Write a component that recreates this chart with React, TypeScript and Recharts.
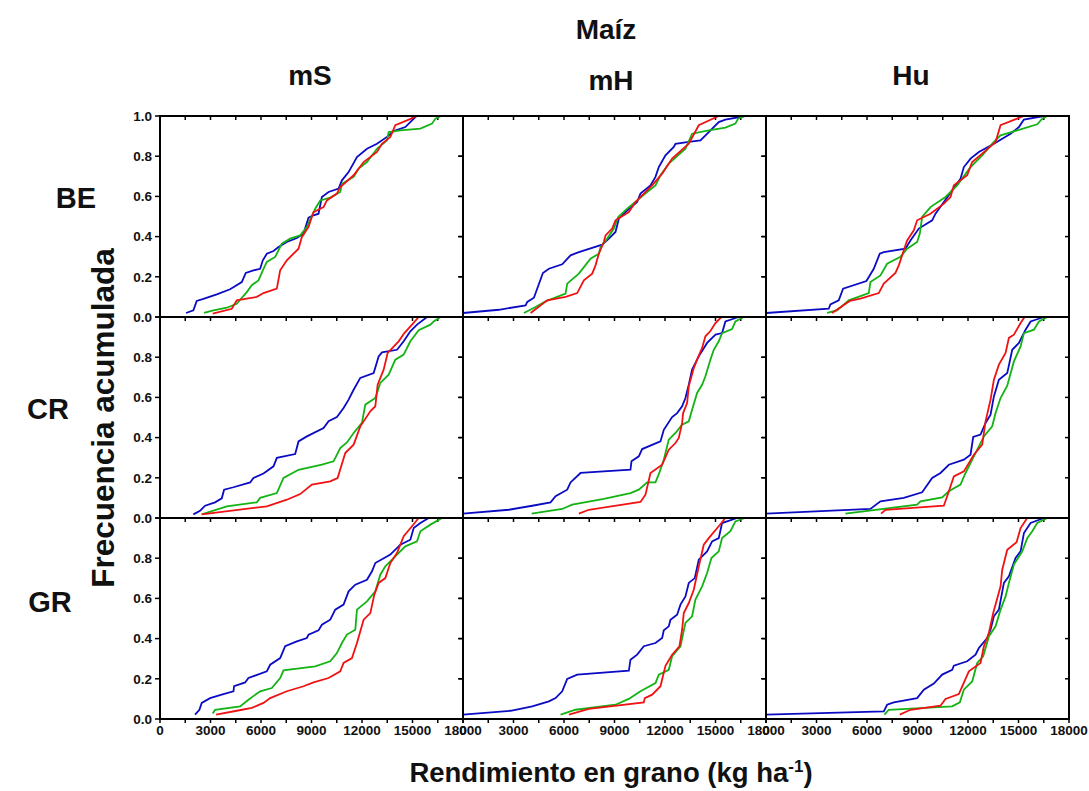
import { LineChart, Line, XAxis, YAxis, ReferenceLine } from "recharts";

type Pt = [number, number];

// column / row names
const columns = ["mS", "mH", "Hu"];
const rows = ["BE", "CR", "GR"];
const xTicks = [0, 1500, 3000, 4500, 6000, 7500, 9000, 10500, 12000, 13500, 15000, 16500, 18000];
const yTicks = [0, 0.2, 0.4, 0.6, 0.8, 1.0];

// BE
const beMsBlue: Pt[] = [[1547,0.02],[1983,0.033],[2181,0.08],[2578,0.09],[3371,0.113],[4165,0.138],[4858,0.174],[5096,0.219],[5552,0.232],[5949,0.24],[6108,0.282],[6346,0.315],[6742,0.328],[7040,0.348],[7535,0.373],[8130,0.393],[8527,0.415],[8824,0.494],[9121,0.506],[9418,0.514],[9616,0.597],[10014,0.622],[10609,0.639],[10807,0.68],[11204,0.721],[11700,0.796],[12295,0.837],[12890,0.862],[13485,0.896],[13881,0.925],[14575,0.945],[14972,0.978],[15230,1.0]];
const beMsGreen: Pt[] = [[2618,0.02],[3173,0.033],[3966,0.046],[4561,0.066],[4759,0.086],[5155,0.124],[5453,0.158],[5850,0.182],[6108,0.232],[6346,0.274],[6841,0.299],[7238,0.365],[7734,0.39],[8329,0.406],[8725,0.448],[9220,0.539],[9517,0.58],[10113,0.594],[10708,0.622],[10807,0.663],[11502,0.697],[11799,0.738],[12295,0.771],[12890,0.837],[13485,0.879],[13584,0.92],[14278,0.929],[15468,0.937],[16162,0.962],[16360,0.987],[16697,1.0]];
const beMsRed: Pt[] = [[3133,0.017],[4264,0.041],[4561,0.083],[5155,0.091],[5751,0.1],[6148,0.119],[6941,0.141],[7139,0.232],[7535,0.282],[8229,0.34],[8428,0.398],[8824,0.448],[9121,0.522],[9715,0.547],[9913,0.58],[10509,0.614],[10708,0.647],[11502,0.705],[12097,0.771],[12890,0.821],[13187,0.862],[13683,0.896],[13980,0.954],[14674,0.978],[15270,1.0]];
const beMhBlue: Pt[] = [[0,0.02],[2136,0.036],[3719,0.058],[3818,0.075],[4213,0.096],[4747,0.219],[5103,0.24],[5894,0.262],[6389,0.307],[6883,0.323],[8268,0.36],[8664,0.39],[9059,0.423],[9257,0.489],[9653,0.522],[10346,0.572],[10543,0.614],[11137,0.655],[11434,0.697],[11632,0.746],[12028,0.804],[12522,0.846],[12621,0.862],[13413,0.871],[14105,0.879],[14600,0.92],[15193,0.97],[15589,0.982],[16776,1.0]];
const beMhGreen: Pt[] = [[3620,0.02],[4312,0.05],[4905,0.078],[6092,0.116],[6191,0.166],[6883,0.216],[7576,0.29],[8070,0.315],[8169,0.348],[8565,0.39],[8961,0.44],[9218,0.498],[9752,0.539],[10346,0.58],[10939,0.622],[11434,0.655],[11731,0.705],[12225,0.763],[13214,0.837],[13610,0.912],[14600,0.929],[15589,0.942],[16183,0.962],[16341,0.987],[16697,1.0]];
const beMhRed: Pt[] = [[4015,0.02],[5004,0.083],[6092,0.1],[6785,0.119],[7180,0.182],[7675,0.216],[7873,0.257],[8070,0.315],[8367,0.373],[8466,0.406],[8862,0.44],[9059,0.481],[9851,0.522],[10247,0.572],[10642,0.605],[11236,0.655],[11830,0.713],[12423,0.788],[13413,0.862],[14006,0.954],[15193,1.0]];
const beHuBlue: Pt[] = [[0,0.02],[3726,0.041],[3825,0.063],[4321,0.083],[4579,0.141],[5966,0.179],[6402,0.24],[6759,0.315],[6997,0.323],[8285,0.34],[8582,0.381],[9078,0.44],[9871,0.481],[10069,0.514],[10565,0.572],[11060,0.63],[11556,0.688],[11754,0.746],[12150,0.788],[12646,0.821],[13538,0.862],[14529,0.912],[15025,0.945],[15322,0.982],[16511,1.0]];
const beHuGreen: Pt[] = [[3627,0.02],[4222,0.033],[4916,0.083],[6105,0.119],[6204,0.174],[6799,0.207],[7195,0.265],[7988,0.299],[8384,0.34],[8979,0.373],[9137,0.415],[9276,0.498],[9771,0.547],[10663,0.597],[11357,0.655],[12150,0.746],[12844,0.804],[13538,0.871],[13934,0.904],[14925,0.929],[16114,0.959],[16412,0.987],[16709,1.0]];
const beHuRed: Pt[] = [[3924,0.02],[4975,0.08],[5609,0.091],[6699,0.119],[6997,0.166],[7691,0.219],[7889,0.257],[8186,0.332],[8384,0.381],[8781,0.431],[8979,0.481],[9771,0.514],[10564,0.564],[10961,0.597],[11159,0.655],[11952,0.705],[12249,0.771],[12844,0.813],[13637,0.871],[13934,0.954],[15322,1.0]];

// CR
const crMsBlue: Pt[] = [[1983,0.018],[2380,0.036],[2677,0.061],[3272,0.078],[3669,0.098],[3808,0.141],[4363,0.153],[5354,0.177],[5552,0.199],[6148,0.221],[6742,0.257],[6941,0.299],[8031,0.318],[8229,0.381],[8725,0.406],[9716,0.448],[10014,0.481],[10509,0.502],[10906,0.547],[11204,0.589],[11502,0.638],[11899,0.697],[12692,0.721],[12989,0.804],[13187,0.824],[14080,0.837],[14476,0.879],[14872,0.929],[15270,0.962],[15865,1.0]];
const crMsGreen: Pt[] = [[2479,0.018],[3966,0.058],[5751,0.078],[5949,0.1],[6941,0.124],[7337,0.199],[8229,0.24],[9617,0.265],[10311,0.282],[10708,0.348],[11105,0.376],[11502,0.423],[11997,0.473],[12196,0.564],[12791,0.597],[13088,0.672],[13584,0.713],[13980,0.788],[14476,0.813],[14872,0.879],[15368,0.934],[16063,0.962],[16261,0.978],[16658,1.0]];
const crMsRed: Pt[] = [[2479,0.018],[6346,0.058],[7535,0.091],[8329,0.119],[9022,0.166],[10113,0.182],[10549,0.199],[11006,0.323],[11502,0.365],[11899,0.456],[12494,0.531],[12791,0.556],[12930,0.663],[13286,0.738],[13524,0.821],[14179,0.879],[14516,0.92],[14972,0.962],[15368,1.0]];
const crMhBlue: Pt[] = [[0,0.022],[2730,0.041],[4114,0.061],[5202,0.078],[5499,0.108],[6191,0.141],[6389,0.177],[6982,0.224],[9949,0.24],[10009,0.282],[10444,0.307],[10642,0.343],[11731,0.381],[11929,0.439],[12423,0.502],[12720,0.522],[13017,0.556],[13214,0.597],[13413,0.663],[13610,0.738],[14006,0.804],[14501,0.871],[15000,0.912],[15391,0.92],[15589,0.978],[16380,1.0]];
const crMhGreen: Pt[] = [[4075,0.022],[5894,0.045],[6488,0.066],[8367,0.095],[9949,0.124],[10444,0.141],[10939,0.177],[11434,0.177],[11672,0.227],[11929,0.29],[12225,0.39],[12621,0.423],[13017,0.464],[13413,0.481],[13610,0.539],[13907,0.622],[14204,0.663],[14402,0.705],[14699,0.788],[14897,0.837],[15193,0.879],[15391,0.92],[15984,0.94],[16183,0.978],[16677,1.0]];
const crMhRed: Pt[] = [[6883,0.022],[7477,0.041],[10543,0.08],[10840,0.116],[11137,0.224],[11830,0.265],[12225,0.34],[12621,0.373],[12819,0.398],[13017,0.473],[13076,0.522],[13313,0.572],[13413,0.655],[13709,0.746],[13907,0.788],[14204,0.846],[14402,0.904],[14699,0.93],[14996,0.97],[15352,1.0]];
const crHuBlue: Pt[] = [[0,0.022],[6204,0.045],[6799,0.083],[8186,0.1],[9276,0.128],[9871,0.199],[10366,0.224],[10862,0.265],[11754,0.29],[12150,0.315],[12309,0.403],[12745,0.415],[13043,0.473],[13340,0.514],[13538,0.605],[13835,0.688],[14331,0.721],[14628,0.837],[15025,0.871],[15421,0.937],[15718,0.978],[16511,1.0]];
const crHuGreen: Pt[] = [[4717,0.022],[8979,0.066],[9177,0.083],[10466,0.103],[10862,0.133],[11556,0.166],[11853,0.224],[12348,0.307],[12943,0.406],[13439,0.456],[13637,0.522],[13934,0.597],[14331,0.658],[14727,0.779],[15124,0.854],[15322,0.92],[15916,0.937],[16214,0.978],[16709,1.0]];
const crHuRed: Pt[] = [[6838,0.022],[7096,0.041],[10564,0.061],[10763,0.108],[11159,0.207],[11754,0.232],[12348,0.315],[12844,0.365],[13043,0.481],[13340,0.589],[13538,0.688],[13835,0.763],[14232,0.821],[14430,0.896],[14727,0.912],[15124,0.97],[15362,1.0]];

// GR
const grMsBlue: Pt[] = [[2082,0.022],[2340,0.046],[2479,0.08],[2975,0.104],[3768,0.124],[4363,0.138],[4403,0.163],[5057,0.182],[5254,0.204],[6346,0.237],[6545,0.27],[7139,0.303],[7436,0.362],[8130,0.386],[8725,0.403],[8824,0.42],[9418,0.441],[9617,0.469],[10113,0.494],[10410,0.544],[10906,0.569],[11204,0.635],[11601,0.668],[12295,0.693],[12593,0.735],[12791,0.776],[13683,0.818],[14278,0.867],[14872,0.892],[15071,0.95],[15468,0.975],[15964,1.0]];
const grMsGreen: Pt[] = [[3133,0.027],[3272,0.046],[4759,0.063],[5254,0.096],[5949,0.138],[6643,0.154],[7139,0.204],[7337,0.242],[9220,0.262],[10113,0.287],[10509,0.328],[10807,0.378],[11105,0.42],[11601,0.444],[11700,0.544],[12295,0.585],[12791,0.635],[13088,0.718],[13386,0.76],[14080,0.818],[14575,0.859],[15269,0.884],[15468,0.934],[16063,0.967],[16757,1.0]];
const grMsRed: Pt[] = [[3332,0.022],[4561,0.041],[5453,0.055],[6148,0.08],[6545,0.104],[7535,0.138],[8527,0.163],[9121,0.182],[10014,0.204],[10708,0.237],[10906,0.279],[11403,0.303],[11700,0.378],[12097,0.494],[12494,0.527],[12732,0.619],[12989,0.677],[13386,0.701],[13683,0.776],[14080,0.826],[14476,0.909],[14972,0.959],[15368,1.0]];
const grMhBlue: Pt[] = [[0,0.022],[2829,0.041],[4114,0.063],[5103,0.088],[5499,0.104],[5894,0.138],[6191,0.199],[6785,0.221],[9851,0.24],[9949,0.295],[10346,0.32],[10741,0.362],[11434,0.378],[11830,0.403],[11929,0.441],[12225,0.461],[12324,0.494],[12720,0.519],[12918,0.569],[13214,0.61],[13413,0.677],[13768,0.701],[14006,0.793],[14501,0.834],[14798,0.884],[15193,0.9],[15391,0.975],[16281,1.0]];
const grMhGreen: Pt[] = [[5795,0.022],[6686,0.046],[9059,0.071],[9851,0.1],[10543,0.138],[11434,0.179],[11632,0.221],[12225,0.245],[12423,0.312],[12918,0.362],[13214,0.478],[13610,0.511],[13807,0.594],[14204,0.66],[14501,0.726],[14758,0.801],[15193,0.834],[15391,0.9],[15886,0.934],[16183,0.983],[16737,1.0]];
const grMhRed: Pt[] = [[6290,0.022],[7477,0.05],[10741,0.083],[10800,0.104],[11236,0.121],[11731,0.163],[12028,0.265],[12423,0.32],[12858,0.362],[13017,0.444],[13115,0.527],[13413,0.577],[13709,0.643],[14006,0.759],[14303,0.867],[14600,0.9],[15193,0.959],[15589,1.0]];
const grHuBlue: Pt[] = [[0,0.022],[6997,0.038],[7195,0.071],[7592,0.083],[8979,0.104],[9375,0.146],[9970,0.176],[10466,0.221],[11060,0.245],[11159,0.265],[11952,0.287],[12448,0.32],[12646,0.353],[13141,0.403],[13340,0.444],[13538,0.511],[13835,0.544],[14133,0.677],[14430,0.71],[14826,0.801],[15124,0.834],[15322,0.925],[15718,0.975],[16511,1.0]];
const grHuGreen: Pt[] = [[7036,0.022],[7294,0.046],[11060,0.063],[11516,0.083],[11754,0.146],[12249,0.187],[12546,0.279],[12903,0.312],[13240,0.411],[13637,0.461],[13934,0.544],[14232,0.61],[14430,0.677],[14727,0.768],[15223,0.834],[15520,0.9],[15817,0.934],[16114,0.975],[16709,1.0]];
const grHuRed: Pt[] = [[7948,0.022],[8582,0.046],[10366,0.066],[10664,0.1],[11456,0.124],[12051,0.237],[12745,0.279],[12943,0.362],[13240,0.428],[13498,0.527],[13934,0.66],[14034,0.743],[14331,0.842],[14886,0.879],[15124,0.95],[15520,1.0]];

const panels: Pt[][][] = [
  [[beMsBlue, beMsGreen, beMsRed], [beMhBlue, beMhGreen, beMhRed], [beHuBlue, beHuGreen, beHuRed]],
  [[crMsBlue, crMsGreen, crMsRed], [crMhBlue, crMhGreen, crMhRed], [crHuBlue, crHuGreen, crHuRed]],
  [[grMsBlue, grMsGreen, grMsRed], [grMhBlue, grMhGreen, grMhRed], [grHuBlue, grHuGreen, grHuRed]],
];
const colors = ["#0b0bc4", "#13b313", "#f01212"];

const FONT = "'Liberation Sans', Arial, sans-serif";
const PW = 303;
const PH = 201;
const LEFT = 160;
const TOP = 116;
const XMAX = 18000;
// tick lengths in data units (about 4-5 px)
const TX = (5 / PW) * XMAX;
const TY = 4 / PH;

const toObj = (pts: Pt[]) => pts.map(([x, y]) => ({ x, y }));

const tickStyle = { fill: "#111", fontSize: 13.5, fontWeight: 700, fontFamily: FONT };

function Panel({ r, c }: { r: number; c: number }) {
  const first = c === 0;
  const last = r === 2;
  const mLeft = first ? 8 : 22;
  const yw = first ? 50 : 0;
  const xh = last ? 28 : 0;
  const offL = mLeft + yw;
  const offT = 8;
  const mBottom = last ? 4 : 8;
  const w = offL + PW + 22;
  const h = offT + PH + xh + mBottom;
  const tk = { stroke: "#000", strokeWidth: 1.5, ifOverflow: "visible" as const };
  return (
    <div style={{ position: "absolute", left: LEFT + c * PW - offL, top: TOP + r * PH - offT }}>
      <LineChart width={w} height={h} margin={{ top: offT, right: 22, bottom: mBottom, left: mLeft }}>
        <XAxis
          dataKey="x"
          type="number"
          domain={[0, XMAX]}
          ticks={xTicks}
          interval={0}
          hide={!last}
          height={xh || undefined}
          axisLine={false}
          tickLine={false}
          tickSize={5}
          tickMargin={1}
          tick={tickStyle}
          tickFormatter={(v: number) => (v % 3000 === 0 ? String(v) : "")}
        />
        <YAxis
          type="number"
          domain={[0, 1]}
          ticks={yTicks}
          interval={0}
          hide={!first}
          width={yw || undefined}
          axisLine={false}
          tickLine={false}
          tickSize={6}
          tickMargin={2}
          tick={tickStyle}
          tickFormatter={(v: number) => (r > 0 && v === 1 ? "" : v.toFixed(1))}
        />
        {/* inner ticks along top and right, outer ticks along left and (last row) bottom */}
        {xTicks.map((v) => (
          <ReferenceLine key={`t${v}`} segment={[{ x: v, y: 1 }, { x: v, y: 1 - TY }]} {...tk} />
        ))}
        {last &&
          xTicks.map((v) => (
            <ReferenceLine key={`b${v}`} segment={[{ x: v, y: 0 }, { x: v, y: -TY }]} {...tk} />
          ))}
        {yTicks.map((v) => (
          <ReferenceLine key={`l${v}`} segment={[{ x: 0, y: v }, { x: -TX, y: v }]} {...tk} />
        ))}
        {yTicks.map((v) => (
          <ReferenceLine key={`r${v}`} segment={[{ x: XMAX, y: v }, { x: XMAX - TX * 0.8, y: v }]} {...tk} />
        ))}
        {panels[r][c].map((s, i) => (
          <Line
            key={i}
            data={toObj(s)}
            dataKey="y"
            type="linear"
            stroke={colors[i]}
            strokeWidth={1.8}
            dot={false}
            isAnimationActive={false}
          />
        ))}
      </LineChart>
    </div>
  );
}

// panel border, laid over the plot area of each chart
function Frame({ r, c }: { r: number; c: number }) {
  return (
    <div
      style={{
        position: "absolute",
        left: LEFT + c * PW - 1,
        top: TOP + r * PH - 1,
        width: PW + 2,
        height: PH + 2,
        border: "2px solid #000",
        boxSizing: "border-box",
        pointerEvents: "none",
      }}
    />
  );
}

const big = { position: "absolute" as const, fontFamily: FONT, fontWeight: 700, color: "#111", transform: "translate(-50%, -50%)", whiteSpace: "nowrap" as const };

export default function App() {
  return (
    <div style={{ position: "absolute", left: 0, top: 0, width: 1089, height: 791, background: "#fff", overflow: "hidden" }}>
      {rows.map((_, r) => columns.map((__, c) => <Panel key={`${r}-${c}`} r={r} c={c} />))}
      {rows.map((_, r) => columns.map((__, c) => <Frame key={`f${r}-${c}`} r={r} c={c} />))}
      <div style={{ ...big, left: 606, top: 30, fontSize: 28 }}>Maíz</div>
      <div style={{ ...big, left: 310, top: 76, fontSize: 28 }}>{columns[0]}</div>
      <div style={{ ...big, left: 611, top: 81, fontSize: 28 }}>{columns[1]}</div>
      <div style={{ ...big, left: 911, top: 76, fontSize: 28 }}>{columns[2]}</div>
      <div style={{ ...big, left: 76, top: 198, fontSize: 29 }}>{rows[0]}</div>
      <div style={{ ...big, left: 48, top: 409, fontSize: 29 }}>{rows[1]}</div>
      <div style={{ ...big, left: 50, top: 602, fontSize: 29 }}>{rows[2]}</div>
      <div style={{ ...big, left: 103, top: 418, fontSize: 31.5, transform: "translate(-50%, -50%) rotate(-90deg)" }}>
        Frecuencia acumulada
      </div>
      <div style={{ ...big, left: 611, top: 773, fontSize: 27.5 }}>
        Rendimiento en grano (kg ha<sup style={{ fontSize: 17 }}>-1</sup>)
      </div>
    </div>
  );
}
